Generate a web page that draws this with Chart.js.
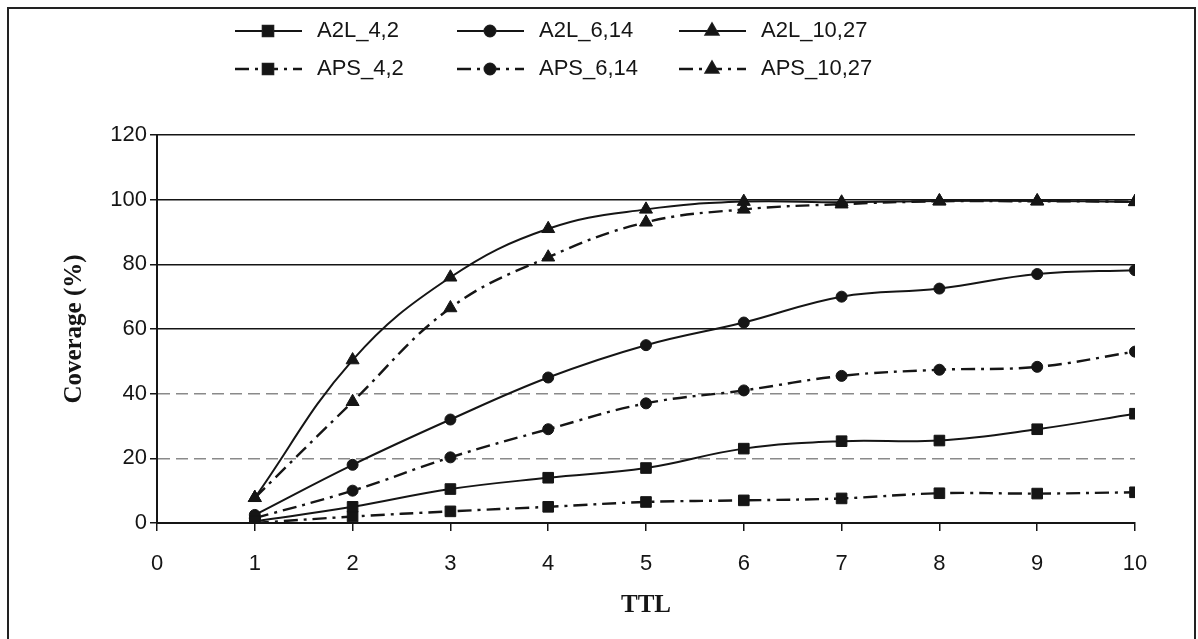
<!DOCTYPE html>
<html><head><meta charset="utf-8">
<script src="https://cdn.jsdelivr.net/npm/chart.js@4"></script>
<style>html,body{margin:0;padding:0;background:#fff}canvas{display:block}</style>
</head><body>
<canvas id="c" width="1198" height="639"></canvas>
<script>
// ---- data ----
const ttl = [1, 2, 3, 4, 5, 6, 7, 8, 9, 10];
const xTickValues = [0, 1, 2, 3, 4, 5, 6, 7, 8, 9, 10];
const yTickValues = [0, 20, 40, 60, 80, 100, 120];
const a2l_4_2   = [0.5, 5, 10.5, 14, 17, 23, 25.3, 25.5, 29, 33.8];
const a2l_6_14  = [2.5, 18, 32, 45, 55, 62, 70, 72.5, 77, 78.2];
const a2l_10_27 = [7.8, 50.4, 76, 91, 97, 99.4, 99.2, 99.6, 99.6, 99.3];
const aps_4_2   = [0, 2, 3.6, 5, 6.5, 7, 7.6, 9.2, 9.1, 9.5];
const aps_6_14  = [1.5, 10, 20.3, 29, 37, 41, 45.5, 47.4, 48.3, 53];
const aps_10_27 = [7.8, 37.5, 66.5, 82.2, 93, 97, 98.6, 99.5, 99.5, 99.4];
const seriesLabels = ['A2L_4,2', 'A2L_6,14', 'A2L_10,27', 'APS_4,2', 'APS_6,14', 'APS_10,27'];

// ---- styling ----
const INK = '#151515';
const DASHDOT = [14, 6, 3, 6];
const markerStyle = ['rect', 'circle', 'triangle', 'rect', 'circle', 'triangle'];
const markerRadius = {rect: 7.5, circle: 5.5, triangle: 7.5};
const seriesValues = [a2l_4_2, a2l_6_14, a2l_10_27, aps_4_2, aps_6_14, aps_10_27];

const datasets = seriesValues.map((vals, i) => {
  const dashed = i >= 3;
  const ps = markerStyle[i];
  return {
    label: seriesLabels[i],
    data: ttl.map((x, k) => ({x: x, y: vals[k]})),
    borderColor: INK,
    backgroundColor: INK,
    borderWidth: dashed ? 2.4 : 2,
    borderDash: dashed ? DASHDOT : [],
    pointStyle: ps,
    pointRadius: markerRadius[ps],
    pointBorderWidth: 1,
    pointBackgroundColor: INK,
    pointBorderColor: INK,
    tension: 0.4,
    fill: false
  };
});

const tickFont = {family: '"Liberation Sans", Arial, sans-serif', size: 22};
const titleFont = {family: '"Liberation Serif", "Times New Roman", serif', size: 25, weight: 'bold'};

const decor = {
  id: 'decor',
  afterDraw(chart) {
    const ctx = chart.ctx;
    ctx.save();
    // outer frame
    ctx.strokeStyle = '#222';
    ctx.lineWidth = 2;
    ctx.beginPath();
    ctx.moveTo(8, 645); ctx.lineTo(8, 8); ctx.lineTo(1195, 8); ctx.lineTo(1195, 645);
    ctx.stroke();
    // legend
    const colX = [235, 457, 679];
    const rowY = [31, 69];
    chart.data.datasets.forEach((ds, i) => {
      const col = i % 3, row = Math.floor(i / 3);
      const x0 = colX[col], y = rowY[row];
      ctx.save();
      ctx.strokeStyle = ds.borderColor;
      ctx.lineWidth = ds.borderWidth;
      ctx.setLineDash(ds.borderDash);
      ctx.beginPath();
      ctx.moveTo(x0, y); ctx.lineTo(x0 + 67, y);
      ctx.stroke();
      ctx.restore();
      Chart.helpers.drawPoint(ctx, {
        pointStyle: ds.pointStyle, radius: ds.pointRadius, borderWidth: 1, rotation: 0
      }, x0 + 33, y);
      ctx.fillStyle = INK;
      ctx.fill();
      ctx.fillStyle = INK;
      ctx.font = '22px "Liberation Sans", Arial, sans-serif';
      ctx.textBaseline = 'middle';
      ctx.textAlign = 'left';
      ctx.fillText(ds.label, x0 + 82, y);
    });
    ctx.restore();
  }
};

new Chart(document.getElementById('c'), {
  type: 'line',
  data: {datasets},
  plugins: [decor],
  options: {
    responsive: false,
    animation: false,
    events: [],
    layout: {padding: {top: 135, right: 63, left: 0, bottom: 0}},
    plugins: {legend: {display: false}, tooltip: {enabled: false}},
    scales: {
      x: {
        type: 'linear', min: 0, max: 10,
        afterBuildTicks: s => { s.ticks = xTickValues.map(v => ({value: v})); },
        afterFit: s => { s.height = 116; },
        ticks: {font: tickFont, color: INK, padding: 20, maxRotation: 0, autoSkip: false},
        grid: {drawOnChartArea: false, drawTicks: true, tickLength: 8, color: INK, tickColor: INK, lineWidth: 1.5},
        border: {display: true, color: INK, width: 2},
        title: {display: true, text: 'TTL', font: titleFont, color: INK, padding: {top: 0, bottom: 18}}
      },
      y: {
        type: 'linear', min: 0, max: 120,
        afterBuildTicks: s => { s.ticks = yTickValues.map(v => ({value: v})); },
        afterFit: s => { s.width = 157; },
        ticks: {font: tickFont, color: INK, padding: 3},
        grid: {
          drawOnChartArea: true, drawTicks: true, tickLength: 7,
          color: c => (c.tick && (c.tick.value === 20 || c.tick.value === 40)) ? '#8a8a8a' : INK,
          lineWidth: 1.5, tickColor: INK, tickWidth: 1.5
        },
        border: {
          display: true, color: INK, width: 2,
          dash: c => (c.tick && (c.tick.value === 20 || c.tick.value === 40)) ? [12, 6] : []
        },
        title: {display: true, text: 'Coverage (%)', font: titleFont, color: INK, padding: {top: 60, bottom: 0}}
      }
    }
  }
});
</script>
</body></html>
